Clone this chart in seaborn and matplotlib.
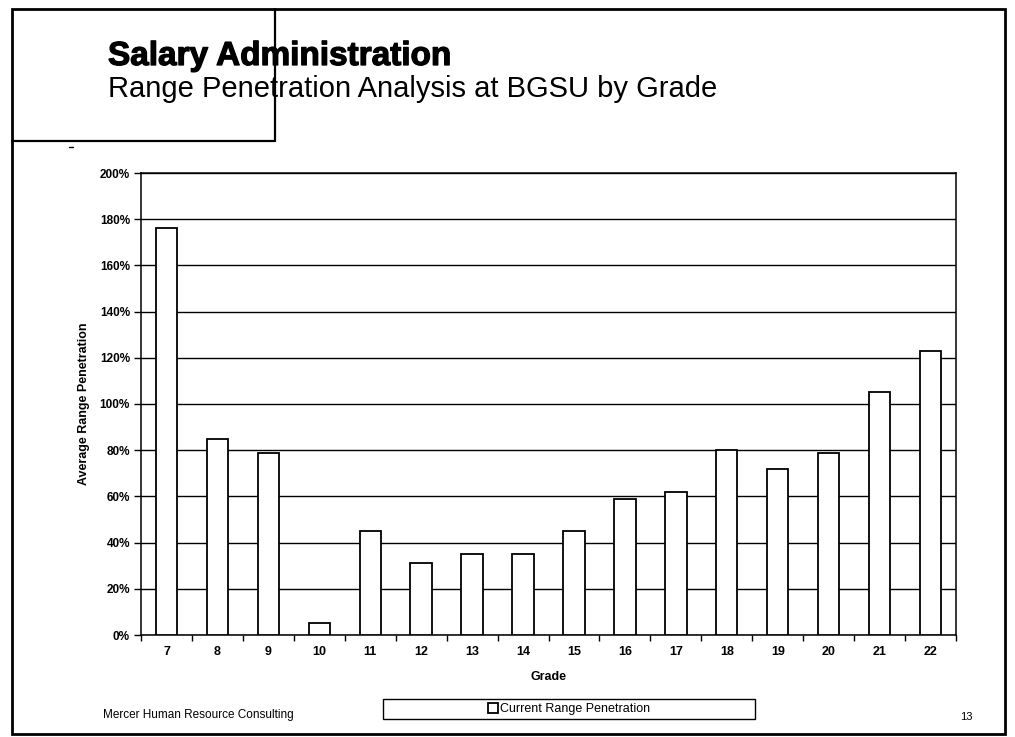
import matplotlib
matplotlib.use("Agg")
import matplotlib.pyplot as plt
import matplotlib.patheffects as pe
from matplotlib.patches import Rectangle
from matplotlib.lines import Line2D
from matplotlib.ticker import FuncFormatter, FixedLocator
import seaborn as sns
import pandas as pd

# Average range penetration (%) for each salary grade
grades = ["7", "8", "9", "10", "11", "12", "13", "14", "15", "16", "17", "18", "19", "20", "21", "22"]
penetration = [176, 85, 79, 5, 45, 31, 35, 35, 45, 59, 62, 80, 72, 79, 105, 123]
y_ticks = [0, 20, 40, 60, 80, 100, 120, 140, 160, 180, 200]
series_label = "Current Range Penetration"

sns.set_theme(style="white")
plt.rcParams["font.family"] = ["Liberation Sans", "DejaVu Sans"]
plt.rcParams.update({"text.color": "black", "axes.labelcolor": "black",
                     "xtick.color": "black", "ytick.color": "black"})

df = pd.DataFrame({"Grade": grades, "Penetration": penetration})

W, H = 1015, 737
fig = plt.figure(figsize=(W / 100, H / 100), dpi=100)
fig.patch.set_facecolor("white")

# plot area in pixel coordinates
ax_left, ax_right, ax_top, ax_bottom = 141, 956, 173, 635
ax = fig.add_axes([ax_left / W, 1 - ax_bottom / H,
                   (ax_right - ax_left) / W, (ax_bottom - ax_top) / H])

sns.barplot(data=df, x="Grade", y="Penetration", order=grades, ax=ax,
            color="white", edgecolor="black", linewidth=1.3, width=0.42,
            label=series_label, zorder=3, legend=False)

ax.set_ylim(0, 200)
ax.set_xlim(-0.5, len(grades) - 0.5)
ax.yaxis.set_major_locator(FixedLocator(y_ticks))
ax.yaxis.set_major_formatter(FuncFormatter(lambda v, _: f"{v:.0f}%"))
ax.grid(axis="y", color="black", linewidth=1.0, zorder=0)
ax.grid(axis="x", visible=False)
ax.set_axisbelow(True)

for side in ["left", "right", "top", "bottom"]:
    ax.spines[side].set_visible(True)
    ax.spines[side].set_color("black")
    ax.spines[side].set_linewidth(1.1)

# category labels at bar centres, tick marks on the category boundaries
ax.tick_params(axis="x", which="major", length=0, pad=8, labelsize=9)
ax.set_xticks(range(len(grades)), minor=False)
ax.set_xticks([i - 0.5 for i in range(len(grades) + 1)], minor=True)
ax.tick_params(axis="x", which="minor", length=4, width=1, color="black",
               direction="out", bottom=True)
ax.tick_params(axis="y", which="major", length=5, width=1, color="black",
               direction="out", left=True, pad=3, labelsize=8.5)
for lbl in ax.get_xticklabels() + ax.get_yticklabels():
    lbl.set_fontweight("bold")

ax.set_xlabel("Grade", fontsize=9, fontweight="bold")
ax.set_ylabel("Average Range Penetration", fontsize=9, fontweight="bold")
ax.xaxis.set_label_coords(0.5, -0.078)
ax.yaxis.set_label_coords(-0.062, 0.5)

# slide frame
lw_frame = 2.0
fig.add_artist(Rectangle((12 / W, 1 - 734 / H), (1005 - 12) / W, (734 - 9) / H,
                         transform=fig.transFigure, fill=False,
                         edgecolor="black", linewidth=lw_frame))
fig.add_artist(Line2D([12 / W, 275 / W], [1 - 141 / H, 1 - 141 / H],
                      transform=fig.transFigure, color="black", linewidth=1.6))
fig.add_artist(Line2D([275 / W, 275 / W], [1 - 9 / H, 1 - 141 / H],
                      transform=fig.transFigure, color="black", linewidth=1.6))
fig.add_artist(Line2D([69 / W, 73 / W], [1 - 147 / H, 1 - 147 / H],
                      transform=fig.transFigure, color="black", linewidth=1.0))

# titles
fig.text(108 / W, 1 - 65 / H, "Salary Administration", fontsize=24,
         fontweight="heavy", ha="left", va="baseline",
         path_effects=[pe.withStroke(linewidth=0.9, foreground="black")])
fig.text(108 / W, 1 - 97 / H, "Range Penetration Analysis at BGSU by Grade",
         fontsize=21, ha="left", va="baseline")

# legend in a wide box below the chart
leg_l, leg_r, leg_t, leg_b = 383, 755, 699, 719
fig.add_artist(Rectangle((leg_l / W, 1 - leg_b / H), (leg_r - leg_l) / W,
                         (leg_b - leg_t) / H, transform=fig.transFigure,
                         fill=False, edgecolor="black", linewidth=1.0))
handles, labels = ax.get_legend_handles_labels()
fig.legend(handles, labels, loc="center",
           bbox_to_anchor=((leg_l + leg_r) / 2 / W, 1 - (leg_t + leg_b) / 2 / H),
           frameon=False, fontsize=9, handlelength=0.8, handleheight=0.8,
           handletextpad=0.2, borderpad=0)

# footer
fig.text(103 / W, 1 - 715 / H, "Mercer Human Resource Consulting", fontsize=8.5,
         ha="left", va="center")
fig.text(966 / W, 1 - 717 / H, "13", fontsize=8, ha="center", va="center")

fig.savefig("out.png", dpi=100, facecolor="white")
